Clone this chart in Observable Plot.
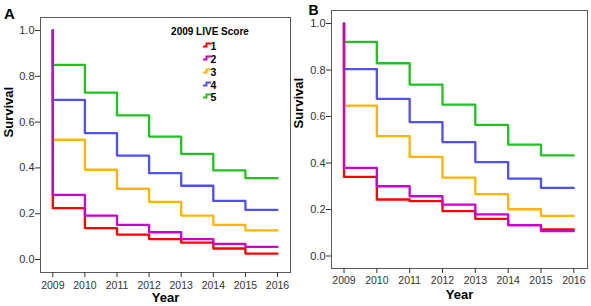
<!DOCTYPE html>
<html><head><meta charset="utf-8">
<script src="https://cdn.jsdelivr.net/npm/d3@7"></script>
<script src="https://cdn.jsdelivr.net/npm/@observablehq/plot@0.6"></script>
<style>
body{margin:0;background:#fff;font-family:"Liberation Sans",Arial,sans-serif;}
#wrap{position:relative;width:591px;height:306px;overflow:hidden;background:#fff;}
#wrap svg{position:absolute;top:0;}
.lbl{position:absolute;font-weight:bold;color:#000;white-space:nowrap;line-height:1;}
</style></head><body><div id="wrap"></div>
<script>
// Years on the x axis
const years = [2009, 2010, 2011, 2012, 2013, 2014, 2015, 2016];
const yTicks = [0, 0.2, 0.4, 0.6, 0.8, 1.0];
const scores = ["1", "2", "3", "4", "5"];
const colors = ["#ff0000", "#cc00d0", "#ffb400", "#4f4fff", "#1ec31e"];
const legendTitle = "2009 LIVE Score";
const startSurvival = 1.0;

// Panel A survival at each year (value holds until the next year)
const a1 = [0.224, 0.137, 0.109, 0.089, 0.074, 0.048, 0.026, 0.026];
const a2 = [0.282, 0.192, 0.151, 0.119, 0.089, 0.068, 0.055, 0.055];
const a3 = [0.523, 0.392, 0.309, 0.252, 0.192, 0.151, 0.127, 0.127];
const a4 = [0.697, 0.552, 0.454, 0.377, 0.322, 0.256, 0.217, 0.217];
const a5 = [0.850, 0.729, 0.629, 0.537, 0.461, 0.389, 0.355, 0.355];

// Panel B
const b1 = [0.340, 0.243, 0.236, 0.193, 0.160, 0.133, 0.114, 0.114];
const b2 = [0.379, 0.300, 0.257, 0.221, 0.179, 0.133, 0.107, 0.107];
const b3 = [0.647, 0.516, 0.426, 0.337, 0.266, 0.201, 0.173, 0.173];
const b4 = [0.804, 0.676, 0.576, 0.490, 0.404, 0.333, 0.293, 0.293];
const b5 = [0.921, 0.829, 0.737, 0.651, 0.564, 0.479, 0.433, 0.433];

const drawOrder = [0, 2, 3, 4, 1];

function rows(vals) {
  return [{year: years[0], s: startSurvival}].concat(years.map((y, j) => ({year: y, s: vals[j]})));
}

const FONT = '"Liberation Sans", Arial, sans-serif';

function panel(o) {
  const marks = [
    Plot.frame({stroke: "#5a5a5a"}),
    Plot.axisX({ticks: years, tickFormat: d => String(d), tickSize: 5, tickPadding: o.xPad, label: null,
      fontSize: 10.5, fill: "#333", stroke: "#333"}),
    Plot.axisY({ticks: yTicks, tickFormat: d3.format(".1f"), tickSize: 5, tickPadding: 1, label: null,
      fontSize: 11, fill: "#333", stroke: "#333"})
  ];
  drawOrder.forEach(i => {
    marks.push(Plot.line(rows(o.series[i]), {x: "year", y: "s", curve: "step-after",
      stroke: colors[i], strokeWidth: 2.3}));
  });
  marks.push(Plot.text(["Year"], {frameAnchor: "bottom", dy: o.xtDy, text: d => d,
    fontWeight: "bold", fontSize: 13, fill: "#000"}));
  marks.push(Plot.text(["Survival"], {frameAnchor: "left", rotate: -90, dx: o.ytDx, dy: o.ytDy, text: d => d,
    fontWeight: "bold", fontSize: 13, fill: "#000"}));
  const svg = Plot.plot({
    width: o.width, height: 306,
    marginLeft: o.ml, marginRight: o.mr, marginTop: o.mt, marginBottom: o.mb,
    x: {domain: [2009, 2016], insetLeft: o.il, insetRight: o.ir, label: null},
    y: {domain: [0, 1], insetTop: o.it, insetBottom: o.ib, label: null},
    style: {background: "transparent", overflow: "visible", fontFamily: FONT},
    marks
  });
  svg.style.left = o.left + "px";
  return svg;
}

const wrap = document.getElementById("wrap");
wrap.appendChild(panel({series: [a1, a2, a3, a4, a5], left: 0, width: 292,
  ml: 40, mr: 2, mt: 17, mb: 34, il: 12.3, ir: 13, it: 13, ib: 13,
  xPad: 4, xtDy: 29, ytDx: -31.5, ytDy: -7.5}));
wrap.appendChild(panel({series: [b1, b2, b3, b4, b5], left: 290, width: 301,
  ml: 41, mr: 4, mt: 10, mb: 38, il: 12.5, ir: 13.7, it: 13, ib: 12.5,
  xPad: 3, xtDy: 30.5, ytDx: -33, ytDy: -11}));

function label(text, x, y, size, extra) {
  const d = document.createElement("div");
  d.className = "lbl";
  d.textContent = text;
  d.style.left = x + "px";
  d.style.top = y + "px";
  d.style.fontSize = size + "px";
  d.style.transform = "translateY(-50%)" + (extra || "");
  wrap.appendChild(d);
  return d;
}
label("A", 4, 12.5, 15);
label("B", 308.5, 10, 14);

// Legend
const t = label(legendTitle, 210, 31.7, 10, "");
t.style.transform = "translate(-50%,-50%)";
const itemY = [46, 59.2, 72, 84.5, 97.3];
scores.forEach((s, i) => {
  const g = document.createElementNS("http://www.w3.org/2000/svg", "svg");
  g.setAttribute("width", 8); g.setAttribute("height", 6);
  g.style.position = "absolute"; g.style.left = "202.5px"; g.style.top = (itemY[i] - 4) + "px";
  const p = document.createElementNS("http://www.w3.org/2000/svg", "path");
  p.setAttribute("d", "M0,4.5H3.5V1.5H8");
  p.setAttribute("fill", "none"); p.setAttribute("stroke", colors[i]); p.setAttribute("stroke-width", 2);
  g.appendChild(p);
  wrap.appendChild(g);
  label(s, 210.5, itemY[i], 10.5);
});
</script>
</body></html>
